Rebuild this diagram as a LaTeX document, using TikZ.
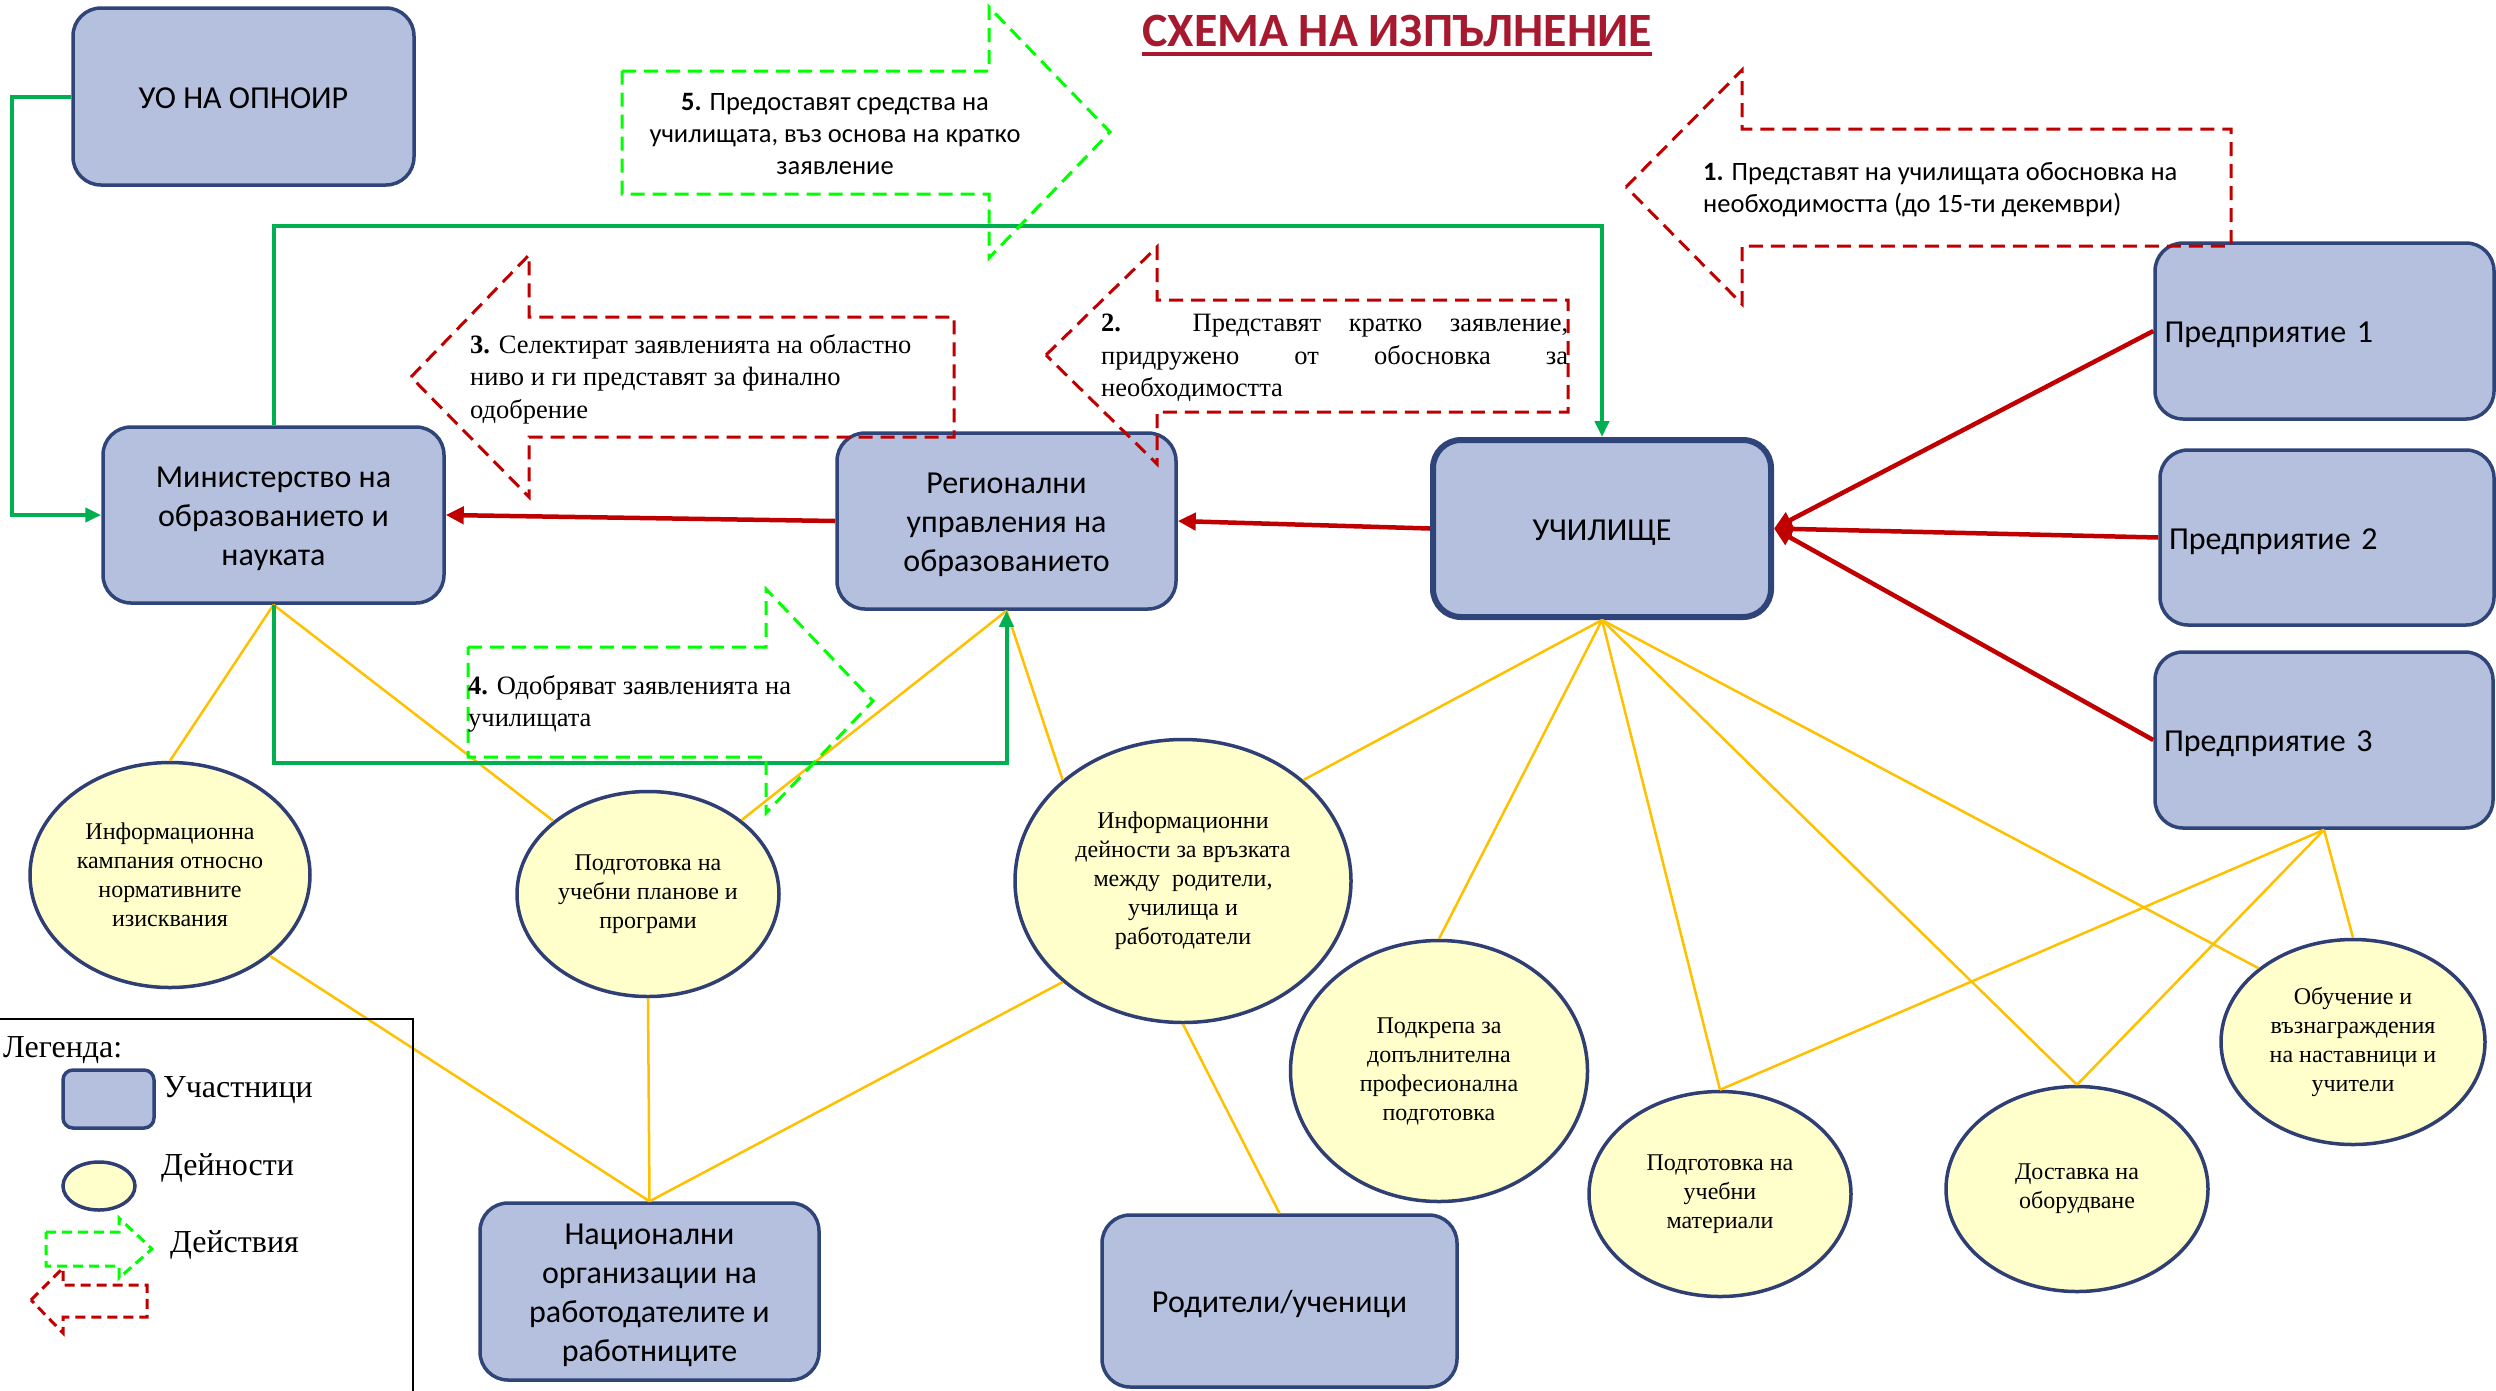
\documentclass[tikz,border=0pt]{standalone}
\usepackage{fontspec}
\setmainfont{Liberation Serif}
\newfontfamily\calib{Carlito}
\usetikzlibrary{shapes.geometric,arrows.meta}
\definecolor{boxfill}{RGB}{180,192,222}
\definecolor{boxdraw}{RGB}{47,68,120}
\definecolor{ellfill}{RGB}{255,255,204}
\definecolor{elldraw}{RGB}{47,62,115}
\definecolor{gline}{RGB}{0,176,80}
\definecolor{rline}{RGB}{192,0,0}
\definecolor{yline}{RGB}{255,192,0}
\definecolor{limeg}{RGB}{0,255,0}
\definecolor{titlecol}{RGB}{166,25,46}
\newcommand{\boxtxt}[1]{\raisebox{-4pt}[\height][\depth]{\begin{tabular}{@{}c@{}}#1\end{tabular}}}
\newcommand{\boxtxtl}[1]{\raisebox{-4pt}[\height][\depth]{#1}}
\begin{document}
\begin{tikzpicture}[x=1pt,y=-1pt,
  box/.style={draw=boxdraw, fill=boxfill, line width=3.5pt, rounded corners=28pt,
    font=\calib\fontsize{32}{39}\selectfont, align=center, inner sep=4pt},
  act/.style={ellipse, draw=elldraw, fill=ellfill, line width=3.5pt,
    font=\fontsize{24}{29}\selectfont, align=center, inner sep=2pt},
  yl/.style={draw=yline, line width=2.5pt},
  gl/.style={draw=gline, line width=4pt},
  garrow/.style={gl, -{Triangle[length=16pt,width=14pt]}},
  rarrow/.style={draw=rline, line width=4.5pt, -{Triangle[length=18pt,width=17pt]}},
  actg/.style={draw=limeg, line width=3pt, dash pattern=on 14pt off 8pt},
  actr/.style={draw=rline, line width=3pt, dash pattern=on 14pt off 8pt},
  legg/.style={draw=limeg, line width=3pt, dash pattern=on 10pt off 6pt},
  legr/.style={draw=rline, line width=3pt, dash pattern=on 10pt off 6pt},
  sanstext/.style={font=\calib\fontsize{26.5}{32}\selectfont, inner sep=0pt},
  seriftext/.style={font=\fontsize{26.5}{32.5}\selectfont, inner sep=0pt},
  legtext/.style={font=\fontsize{32}{36}\selectfont, inner sep=0pt, anchor=west}
]
\useasboundingbox (0,0) rectangle (2496,1390);

% title
\node[font=\calib\bfseries\fontsize{47.8}{52}\selectfont, text=titlecol, inner sep=0pt] (title) at (1397,31) {СХЕМА НА ИЗПЪЛНЕНИЕ};
\draw[titlecol, line width=4pt] ([yshift=-7pt]title.base west) -- ([yshift=-7pt]title.base east);

% participants
\node[box, minimum width=341pt, minimum height=177pt] (uo) at (243.5,96.5) {\boxtxt{УО НА ОПНОИР}};
\node[box, minimum width=341pt, minimum height=176pt] (min) at (273.5,515) {\boxtxt{Министерство на\\образованието и\\науката}};
\node[box, minimum width=339pt, minimum height=176pt] (reg) at (1006.5,521) {\boxtxt{Регионални\\управления на\\образованието}};
\node[box, line width=6pt, minimum width=338pt, minimum height=177pt] (sch) at (1602,528.5) {\boxtxt{УЧИЛИЩЕ}};
\node[box, minimum width=339pt, minimum height=176pt, text width=320pt, align=left] (p1) at (2324.5,331) {\boxtxtl{Предприятие 1}};
\node[box, minimum width=334pt, minimum height=175pt, text width=316pt, align=left] (p2) at (2327,537.5) {\boxtxtl{Предприятие 2}};
\node[box, minimum width=338pt, minimum height=176pt, text width=320pt, align=left] (p3) at (2324,740) {\boxtxtl{Предприятие 3}};
\node[box, minimum width=339pt, minimum height=177pt] (nat) at (649.5,1291.5) {\boxtxt{Национални\\организации на\\работодателите и\\работниците}};
\node[box, minimum width=355pt, minimum height=172pt] (par) at (1279.5,1301) {\boxtxt{Родители/ученици}};

% activities
\node[act, minimum width=280pt, minimum height=225pt] (e1) at (170,875) {Информационна\\кампания относно\\нормативните\\изисквания};
\node[act, minimum width=262pt, minimum height=205pt] (e2) at (648,894) {Подготовка на\\учебни планове и\\програми};
\node[act, minimum width=336pt, minimum height=283pt] (e3) at (1183,881) {Информационни\\дейности за връзката\\между \ родители,\\училища и\\работодатели};
\node[act, minimum width=297pt, minimum height=261pt] (e4) at (1439,1071) {Подкрепа за\\допълнителна\\професионална\\подготовка};
\node[act, minimum width=262pt, minimum height=205pt] (e5) at (1720,1194) {Подготовка на\\учебни\\материали};
\node[act, minimum width=262pt, minimum height=205pt] (e6) at (2077,1189) {Доставка на\\оборудване};
\node[act, minimum width=264pt, minimum height=205pt] (e7) at (2353,1042) {Обучение и\\възнаграждения\\на наставници и\\учители};

% yellow links
\draw[yl] (min.south) -- (e1.north);
\draw[yl] (min.south) -- (e2);
\draw[yl] (reg.south) -- (e2);
\draw[yl] (reg.south) -- (e3.140);
\draw[yl] (sch.south) -- (e3.40);
\draw[yl] (sch.south) -- (e4.north);
\draw[yl] (sch.south) -- (e5.north);
\draw[yl] (sch.south) -- (e6.north);
\draw[yl] (sch.south) -- (e7.142);
\draw[yl] (p3.south) -- (e5.north);
\draw[yl] (p3.south) -- (e6.north);
\draw[yl] (p3.south) -- (e7.north);
\draw[yl] (e1.-39) -- (nat.north);
\draw[yl] (e2.south) -- (nat.north);
\draw[yl] (e3.220) -- (nat.north);
\draw[yl] (e3.south) -- (par.north);

% green links
\coordinate (gA) at (12,96.5);
\coordinate (gC) at (1602,226);
\coordinate (gD) at (1006.5,763);
\draw[garrow] (uo.west) -- (gA) |- (min.west);
\draw[garrow] (min.north) |- (gC) -- (sch.north);
\draw[garrow] (min.south) |- (gD) -- (reg.south);

% red links
\draw[rarrow] (reg.west) -- (min.east);
\draw[rarrow] (sch.west) -- (reg.east);
\draw[rarrow] (p1.west) -- (sch.east);
\draw[rarrow] (p2.west) -- (sch.east);
\draw[rarrow] (p3.west) -- (sch.east);

% action arrows
\draw[actg] (622,71) -- (989,71) -- (989,7) -- (1110,132) -- (989,258) -- (989,194) -- (622,194) -- cycle;
\node[sanstext, align=center] (t5) at (835,134) {\textbf{5.} Предоставят средства на\\училищата, въз основа на кратко\\заявление};

\draw[actr] (1626,187) -- (1742,70) -- (1742,129) -- (2231,129) -- (2231,246) -- (1742,246) -- (1742,304) -- cycle;
\node[sanstext, align=left, anchor=west] (t1) at (1703,190) {\textbf{1.} Представят на училищата обосновка на\\необходимостта (до 15-ти декември)};

\draw[actr] (411,377) -- (529,255) -- (529,317) -- (954,317) -- (954,437) -- (529,437) -- (529,497) -- cycle;
\node[seriftext, align=left, anchor=west] (t3) at (470,379) {\textbf{3.} Селектират заявленията на областно\\ниво и ги представят за финално\\одобрение};

\draw[actr] (1046,355) -- (1157,247) -- (1157,300) -- (1568,300) -- (1568,412) -- (1157,412) -- (1157,464) -- cycle;
\node[seriftext, anchor=west] (t2) at (1101,358) {\parbox{467pt}{\fontsize{26.5}{32.5}\selectfont\hyphenpenalty=10000\parindent=0pt
\textbf{2.} Представят кратко заявление,\linebreak придружено от обосновка за\linebreak необходимостта}};

\draw[actg] (468,647) -- (766,647) -- (766,589) -- (873,701) -- (766,813) -- (766,757) -- (468,757) -- cycle;
\node[seriftext, align=left, anchor=west] (t4) at (468,704) {\textbf{4.} Одобряват заявленията на\\училищата};

% legend
\draw[black, line width=1.5pt] (0,1019) -- (413,1019) -- (413,1392);
\node[font=\fontsize{32}{36}\selectfont, inner sep=0pt, anchor=west] (lg) at (3,1050) {Легенда:};
\node[draw=boxdraw, fill=boxfill, line width=3.5pt, rounded corners=10pt, minimum width=91pt, minimum height=58pt] (lbox) at (108.5,1099) {};
\node[legtext] (l1) at (163,1090) {Участници};
\node[ellipse, draw=elldraw, fill=ellfill, line width=3.5pt, minimum width=72pt, minimum height=48pt, inner sep=0pt] (lell) at (99,1186) {};
\node[legtext] (l2) at (161,1168) {Дейности};
\draw[legg] (46,1232) -- (119,1232) -- (119,1218) -- (152,1249) -- (119,1278) -- (119,1266) -- (46,1266) -- cycle;
\draw[legr] (31,1300) -- (63,1268) -- (63,1285) -- (147,1285) -- (147,1317) -- (63,1317) -- (63,1333) -- cycle;
\node[legtext] (l3) at (170,1245) {Действия};
\end{tikzpicture}
\end{document}
